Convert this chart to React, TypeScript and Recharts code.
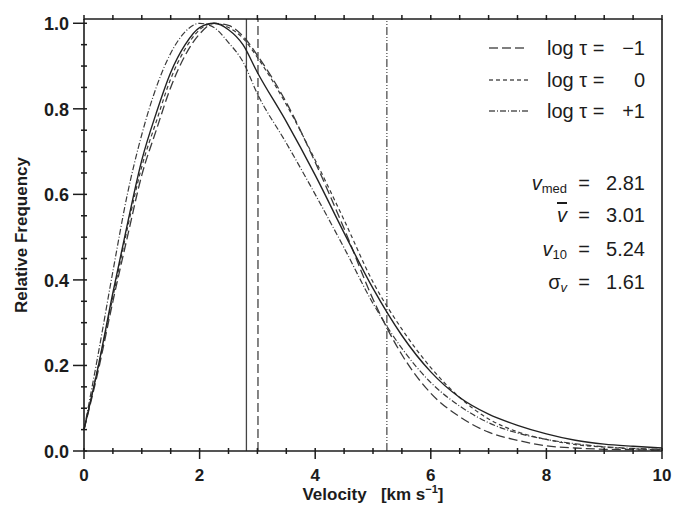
import React from "react";
import { LineChart, Line, XAxis, YAxis, ReferenceLine } from "recharts";

// velocity grid [km/s] and normalized frequencies
const velocity = [0, 0.25, 0.5, 0.75, 1, 1.25, 1.5, 1.75, 2, 2.25, 2.5, 2.75, 3, 3.5, 4, 4.5, 5, 5.5, 6, 6.5, 7, 7.5, 8, 8.5, 9, 9.5, 10];
const freqTotal = [0.05, 0.2, 0.37, 0.53, 0.68, 0.79, 0.885, 0.95, 0.99, 1.0, 0.985, 0.95, 0.885, 0.77, 0.645, 0.51, 0.38, 0.27, 0.185, 0.125, 0.086, 0.06, 0.04, 0.025, 0.016, 0.011, 0.007];
const freqTauM1 = [0.05, 0.19, 0.35, 0.5, 0.645, 0.75, 0.85, 0.925, 0.975, 1.0, 0.995, 0.97, 0.925, 0.815, 0.675, 0.52, 0.355, 0.225, 0.135, 0.08, 0.044, 0.025, 0.012, 0.007, 0.004, 0.003, 0.002];
const freqTau0 = [0.05, 0.2, 0.36, 0.52, 0.665, 0.77, 0.87, 0.94, 0.985, 1.0, 0.99, 0.965, 0.92, 0.81, 0.68, 0.54, 0.395, 0.285, 0.195, 0.125, 0.075, 0.045, 0.027, 0.015, 0.009, 0.005, 0.003];
const freqTauP1 = [0.05, 0.23, 0.42, 0.6, 0.74, 0.85, 0.93, 0.98, 1.0, 0.99, 0.955, 0.91, 0.835, 0.72, 0.6, 0.475, 0.345, 0.24, 0.16, 0.105, 0.066, 0.042, 0.027, 0.017, 0.01, 0.006, 0.004];

const xTicks = [0, 0.5, 1, 1.5, 2, 2.5, 3, 3.5, 4, 4.5, 5, 5.5, 6, 6.5, 7, 7.5, 8, 8.5, 9, 9.5, 10];
const yTicks = [0, 0.05, 0.1, 0.15, 0.2, 0.25, 0.3, 0.35, 0.4, 0.45, 0.5, 0.55, 0.6, 0.65, 0.7, 0.75, 0.8, 0.85, 0.9, 0.95, 1.0];

const legendRows = [
  { value: "\u22121", dash: "9 4" },
  { value: "0", dash: "4 3" },
  { value: "+1", dash: "6 2 1 2" },
];

const vMed = 2.81;
const vMean = 3.01;
const v10 = 5.24;
const sigmaV = 1.61;

const data = velocity.map((v, i) => ({
  v,
  total: freqTotal[i],
  tm1: freqTauM1[i],
  t0: freqTau0[i],
  tp1: freqTauP1[i],
}));

const INK = "#1c1c1c";
const FONT = "'Liberation Sans', Arial, sans-serif";

const isMajorX = (v: number) => Math.round(v * 2) % 4 === 0;
const isMajorY = (v: number) => Math.round(v * 100) % 20 === 0;

function BottomTick({ x, y, payload }: any) {
  const major = isMajorX(payload.value);
  return (
    <g>
      <line x1={x} x2={x} y1={y - 3} y2={y + (major ? 8 : 3)} stroke={INK} strokeWidth={1.5} />
      {major && (
        <text x={x} y={y + 24} textAnchor="middle" dominantBaseline="central" fontFamily={FONT} fontWeight="bold" fontSize={17} fill={INK}>
          {payload.value}
        </text>
      )}
    </g>
  );
}

function TopTick({ x, y }: any) {
  return <line x1={x} x2={x} y1={y - 4} y2={y + 1} stroke={INK} strokeWidth={1.5} />;
}

function LeftTick({ x, y, payload }: any) {
  const major = isMajorY(payload.value);
  return (
    <g>
      <line x1={x - (major ? 11 : 3)} x2={x + 3} y1={y} y2={y} stroke={INK} strokeWidth={1.5} />
      {major && (
        <text x={x - 15} y={y + 1} textAnchor="end" dominantBaseline="central" fontFamily={FONT} fontWeight="bold" fontSize={18} fill={INK}>
          {payload.value.toFixed(1)}
        </text>
      )}
    </g>
  );
}

function RightTick({ x, y, payload }: any) {
  const major = isMajorY(payload.value);
  return <line x1={x - 1} x2={x + (major ? 9 : 5)} y1={y} y2={y} stroke={INK} strokeWidth={1.5} />;
}

export default function App() {
  const txt = { fontFamily: FONT, fill: INK } as const;
  return (
    <div style={{ position: "absolute", left: 0, top: 0, width: 688, height: 506, background: "#fff" }}>
      <LineChart width={688} height={506} data={data} margin={{ top: 0, right: 0, bottom: 0, left: 0 }}>
        <XAxis xAxisId="b" type="number" dataKey="v" domain={[0, 10]} ticks={xTicks} interval={0} height={55}
          tickSize={0} tickMargin={0} tick={<BottomTick />} axisLine={{ stroke: INK, strokeWidth: 1.6 }} />
        <XAxis xAxisId="t" orientation="top" type="number" dataKey="v" domain={[0, 10]} ticks={xTicks} interval={0} height={19}
          tickSize={0} tickMargin={0} tick={<TopTick />} axisLine={{ stroke: INK, strokeWidth: 1.6 }} />
        <YAxis yAxisId="l" type="number" domain={[0, 1.01]} ticks={yTicks} interval={0} width={84}
          tickSize={0} tickMargin={0} tick={<LeftTick />} axisLine={{ stroke: INK, strokeWidth: 1.6 }} />
        <YAxis yAxisId="r" orientation="right" type="number" domain={[0, 1.01]} ticks={yTicks} interval={0} width={26}
          tickSize={0} tickMargin={0} tick={<RightTick />} axisLine={{ stroke: INK, strokeWidth: 1.6 }} />

        <ReferenceLine xAxisId="b" yAxisId="l" x={vMed} stroke="#444" strokeWidth={1.3} />
        <ReferenceLine xAxisId="b" yAxisId="l" x={vMean} stroke="#444" strokeWidth={1.3} strokeDasharray="9 4" />
        <ReferenceLine xAxisId="b" yAxisId="l" x={v10} stroke="#444" strokeWidth={1.2} strokeDasharray="8 2 1 2 1 2" />

        <Line xAxisId="b" yAxisId="l" type="monotone" dataKey="tp1" stroke="#3a3a3a" strokeWidth={1.2} strokeDasharray="6 2 1 2" dot={false} isAnimationActive={false} />
        <Line xAxisId="b" yAxisId="l" type="monotone" dataKey="t0" stroke="#3a3a3a" strokeWidth={1.2} strokeDasharray="4 3" dot={false} isAnimationActive={false} />
        <Line xAxisId="b" yAxisId="l" type="monotone" dataKey="tm1" stroke="#3a3a3a" strokeWidth={1.3} strokeDasharray="9 4" dot={false} isAnimationActive={false} />
        <Line xAxisId="b" yAxisId="l" type="monotone" dataKey="total" stroke="#222" strokeWidth={1.4} dot={false} isAnimationActive={false} />
      </LineChart>

      <svg width={688} height={506} style={{ position: "absolute", left: 0, top: 0, pointerEvents: "none" }}>
        {legendRows.map((row, i) => {
          const y = [48, 80, 111][i];
          return (
            <g key={i}>
              <line x1={489} x2={528} y1={y} y2={y} stroke="#555" strokeWidth={1.3} strokeDasharray={row.dash} />
              <text x={547} y={y} dominantBaseline="central" fontSize={20} {...txt}>log τ =</text>
              <text x={645} y={y} dominantBaseline="central" textAnchor="end" fontSize={20} {...txt}>{row.value}</text>
            </g>
          );
        })}

        <g fontSize={20} {...txt}>
          <text x={567} y={183} textAnchor="end" dominantBaseline="central">
            <tspan fontStyle="italic">v</tspan>
            <tspan fontSize={13} dy={5}>med</tspan>
          </text>
          <text x={567} y={215} textAnchor="end" dominantBaseline="central" fontStyle="italic" style={{ textDecoration: "overline" }}>v</text>
          <text x={567} y={249} textAnchor="end" dominantBaseline="central">
            <tspan fontStyle="italic">v</tspan>
            <tspan fontSize={13} dy={5}>10</tspan>
          </text>
          <text x={567} y={282} textAnchor="end" dominantBaseline="central">
            <tspan>σ</tspan>
            <tspan fontSize={13} dy={5} fontStyle="italic">v</tspan>
          </text>
          {[183, 215, 249, 282].map((y) => (
            <text key={y} x={584} y={y} textAnchor="middle" dominantBaseline="central">=</text>
          ))}
          {[vMed, vMean, v10, sigmaV].map((val, i) => (
            <text key={i} x={645} y={[183, 215, 249, 282][i]} textAnchor="end" dominantBaseline="central">{val.toFixed(2)}</text>
          ))}
        </g>

        <text x={373} y={494} textAnchor="middle" dominantBaseline="central" fontSize={17} fontWeight="bold" {...txt}>
          Velocity{"\u00a0\u00a0\u00a0"}[km s<tspan fontSize={11} dy={-5}>−1</tspan><tspan dy={5}>]</tspan>
        </text>
        <text transform="translate(21,235) rotate(-90)" textAnchor="middle" dominantBaseline="central" fontSize={17} fontWeight="bold" {...txt}>
          Relative Frequency
        </text>
      </svg>
    </div>
  );
}
